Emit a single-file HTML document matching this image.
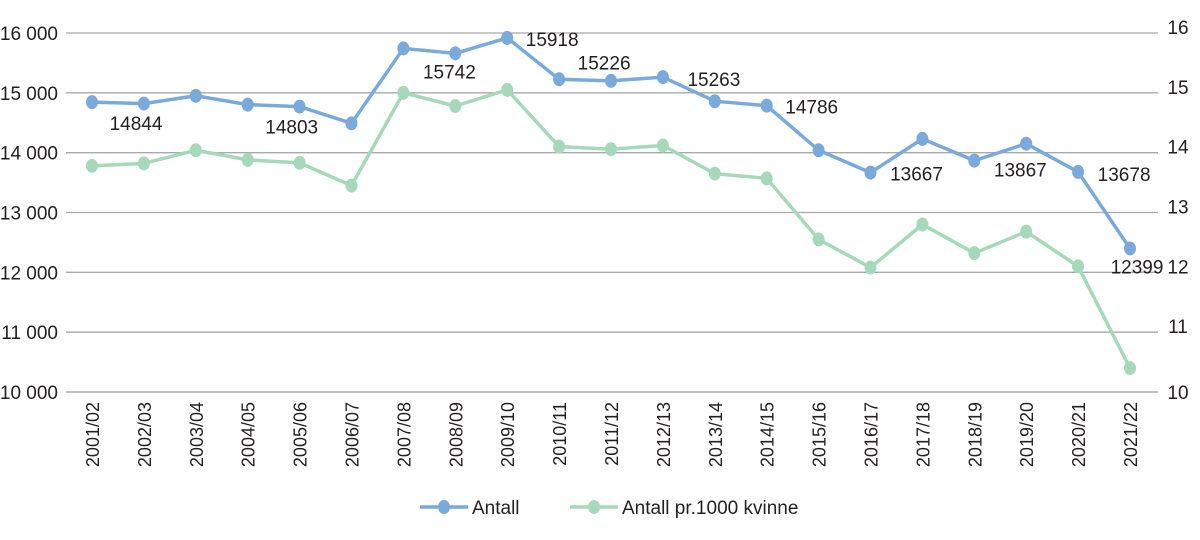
<!DOCTYPE html>
<html><head><meta charset="utf-8"><style>
body{margin:0;background:#fff;font-family:"Liberation Sans",sans-serif;}
svg text{font-family:"Liberation Sans",sans-serif;fill:#231f20;}
</style></head><body>
<svg id="chart" width="1200" height="535"></svg>
<script>
const categories=["2001/02","2002/03","2003/04","2004/05","2005/06","2006/07","2007/08","2008/09","2009/10","2010/11","2011/12","2012/13","2013/14","2014/15","2015/16","2016/17","2017/18","2018/19","2019/20","2020/21","2021/22"];
const antall=[14844,14820,14950,14803,14770,14490,15742,15660,15918,15226,15200,15263,14860,14786,14040,13667,14230,13867,14150,13678,12399];
const perKvinne=[13.78,13.82,14.04,13.88,13.83,13.45,15.0,14.78,15.05,14.1,14.06,14.12,13.65,13.57,12.55,12.08,12.8,12.32,12.68,12.1,10.4];
const leftTicks=[10000,11000,12000,13000,14000,15000,16000];
const leftTickLabels=["10 000","11 000","12 000","13 000","14 000","15 000","16 000"];
const rightTicks=[10,11,12,13,14,15,16];
// labelled category indices
const labelIdx=[0,3,6,8,9,11,13,15,17,19,20];

const NS="http://www.w3.org/2000/svg";
const svg=document.getElementById("chart");
const X0=66,X1=1158,Y0=392,Y1=33;
const xs=i=>92+i*(1130-92)/(categories.length-1);
const yL=v=>Y0-(v-10000)/6000*(Y0-Y1);
const yR=v=>Y0-(v-10)/6*(Y0-Y1);
function el(t,a){const e=document.createElementNS(NS,t);for(const k in a)e.setAttribute(k,a[k]);svg.appendChild(e);return e;}

leftTicks.forEach((t,i)=>{
  const g=el("line",{x1:X0,x2:X1,y1:yL(t),y2:yL(t),stroke:"#a7a9ac","stroke-width":1.3});
  
  
  const l=el("text",{x:58,y:yL(t)+7,"font-size":19,"text-anchor":"end"});l.textContent=leftTickLabels[i];
  
  
});
rightTicks.forEach(t=>{
  const l=el("text",{x:1178,y:yR(t)+(t===10?7:1),"font-size":19,"text-anchor":"middle"});
  l.textContent=t;
  
  
});
const ax=el("line",{x1:X0,x2:X1,y1:Y0,y2:Y0,stroke:"#a7a9ac","stroke-width":1.3});


categories.forEach((c,i)=>{
  const t=el("text",{x:0,y:0,"font-size":18,"text-anchor":"end",transform:`translate(${xs(i)+7},${Y0+10}) rotate(-90)`});
  t.textContent=c;
  
  
});
function series(vals,yf,color,name){
  const p=el("polyline",{points:vals.map((v,i)=>xs(i)+","+yf(v)).join(" "),fill:"none",stroke:color,"stroke-width":3.5});
  
  
  vals.forEach((v,i)=>{
    const c=el("ellipse",{cx:xs(i),cy:yf(v),rx:6,ry:7,fill:color});
    
    
  });
}
series(perKvinne,yR,"#a5d9b9","per-1000-kvinne");
series(antall,yL,"#7aa9db","antall");
// label offset (dx,dy) from point, per labelled index
const offs={0:[44,28],3:[44,29],6:[46,30],8:[45,8],9:[45,-10],11:[51,9],13:[45,8],15:[46,8],17:[46,16],19:[46,9],20:[7,25]};
labelIdx.forEach(i=>{
  const [dx,dy]=offs[i];
  const t=el("text",{x:xs(i)+dx,y:yL(antall[i])+dy,"font-size":19,"text-anchor":"middle"});
  t.textContent=antall[i];
  
  
});
[["Antall","#7aa9db",420],["Antall pr.1000 kvinne","#a5d9b9",570]].forEach(([n,c,x])=>{
  const l=el("line",{x1:x,x2:x+48,y1:507,y2:507,stroke:c,"stroke-width":3.5});
  
  
  const m=el("ellipse",{cx:x+24,cy:507,rx:6,ry:7,fill:c});
  
  
  const t=el("text",{x:x+52,y:514,"font-size":19});t.textContent=n;
  
  
});
</script>
</body></html>
